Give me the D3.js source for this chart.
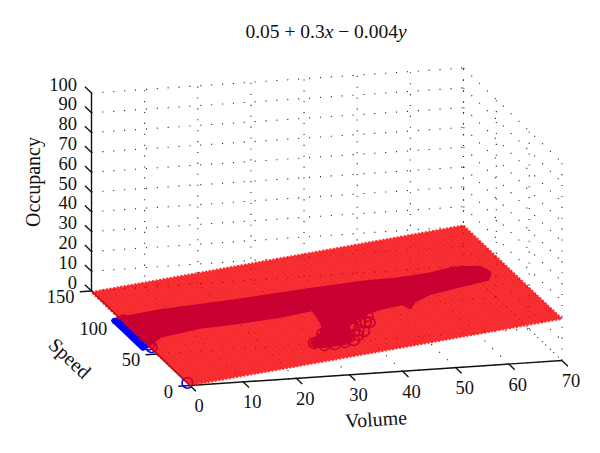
<!DOCTYPE html>
<html>
<head>
<meta charset="utf-8">
<script src="https://cdn.jsdelivr.net/npm/d3@7"></script>
<style>
  body { margin: 0; background: #fff; }
  text { font-family: "Liberation Serif", serif; fill: #111; }
</style>
</head>
<body>
<svg id="chart" width="600" height="453"></svg>
<script>
// Ticks of the three axes
const volumeTicks = [0, 10, 20, 30, 40, 50, 60, 70];
const speedTicks = [0, 50, 100, 150];
const occupancyTicks = [0, 10, 20, 30, 40, 50, 60, 70, 80, 90, 100];

// Corners of the fitted plane
const planeVolume = [0, 70, 70, 0];
const planeSpeed = [0, 0, 150, 150];
const planeOccupancy = [0.05, 21.05, 20.45, -0.55];

// Outline of the solid mass of overlapping observations
const massVolume = [-1.2, 7.5, 20.7, 33, 44.5, 50.3, 56.4, 61, 65.4, 66, 64.9, 59, 53.5, 49.6, 48, 47.6, 43.1, 39.5, 37.5, 35, 34, 33.5, 32.5, 28, 26.5, 29.5, 31, 32, 32.3, 26, 17.4, 11.5, 3.7, -1.2];
const massSpeed = [106, 106.5, 102.2, 99.4, 96.2, 92, 90.8, 93.3, 88, 79.2, 72.8, 70.6, 67.8, 61.1, 53.8, 60.9, 59.7, 55.7, 50.5, 44, 34, 27, 21.4, 21.8, 26, 37.3, 46.6, 60, 74.7, 73.2, 75.2, 77.8, 75.4, 62];

// Single observations that can still be told apart
const pointVolume = [0, 32.5, 27.3, 28, 29.8, 31.7, 33.5, 35, 35.9, 38.4, 39.7, 39.5, 35.7, 35.8, 29.5, 31.7, 31.1, 33.4, 34.7, 34.3, 33.6, 37.4, 37.5, 33.5, 29.4, 31.3, 31.2, 39, 36.6, 26.7, 0.3, 0.3, 0.3, 0.3, 0.3, 0.3, 0.3, 0.3, 0.3, 0.3, 0.3, 0.3];
const pointSpeed = [4, 61.7, 27.7, 21.8, 20.6, 20.9, 21.4, 27.2, 33.9, 42.9, 50.5, 57.4, 42.2, 53.4, 37.3, 46.6, 31.4, 34.4, 55.1, 60.6, 43.7, 51, 44.3, 27.8, 30.9, 24.8, 39.4, 41.9, 31.2, 27.1, 61, 65, 69, 73, 77, 81, 85, 89, 93, 97, 101, 104];

const svg = d3.select("#chart");

// Each axis moves along its own screen direction (orthographic view)
const originX = 190, originY = 385.5;
const volX = d3.scaleLinear().domain([0, 70]).range([0, 372]);
const volY = d3.scaleLinear().domain([0, 70]).range([0, -25]);
const spdX = d3.scaleLinear().domain([0, 150]).range([0, -98.5]);
const spdY = d3.scaleLinear().domain([0, 150]).range([0, -94.5]);
const occY = d3.scaleLinear().domain([0, 100]).range([0, -198]);

const project = (v, s, o) => [
    originX + volX(v) + spdX(s),
    originY + volY(v) + spdY(s) + occY(o)
];
const occOnPlane = (v, s) => 0.05 + 0.3 * v - 0.004 * s;
const line = d3.line();

// Stripe texture of the plane markers
const defs = svg.append("defs");
const stripes = defs.append("pattern")
    .attr("id", "planeTexture")
    .attr("patternUnits", "userSpaceOnUse")
    .attr("width", 4).attr("height", 4)
    .attr("patternTransform", "rotate(42)");
stripes.append("rect").attr("width", 4).attr("height", 4).attr("fill", "#ff0000");
stripes.append("rect").attr("width", 4).attr("height", 1.6).attr("fill", "#e6000c");

// Dotted grid: back wall, right wall, floor
const grid = svg.append("g")
    .attr("fill", "none")
    .attr("stroke", "#222")
    .attr("stroke-width", 1.1)
    .attr("stroke-dasharray", "1.1 9.8");
const gridSegments = [];
volumeTicks.forEach(v => {
    gridSegments.push([project(v, 150, 0), project(v, 150, 100)]);
    gridSegments.push([project(v, 0, 0), project(v, 150, 0)]);
});
speedTicks.forEach(s => {
    gridSegments.push([project(70, s, 0), project(70, s, 100)]);
    gridSegments.push([project(0, s, 0), project(70, s, 0)]);
});
occupancyTicks.forEach(o => {
    gridSegments.push([project(0, 150, o), project(70, 150, o)]);
    gridSegments.push([project(70, 150, o), project(70, 0, o)]);
});
grid.selectAll("path").data(gridSegments).join("path").attr("d", line);

// Axis lines below the plane
const axes = svg.append("g").attr("fill", "none").attr("stroke", "#111").attr("stroke-width", 1.4);
axes.append("path").attr("d", line([project(0, 150, 0), project(0, 150, 100)]));
axes.append("path").attr("d", line([project(0, 0, 0), project(70, 0, 0)]));
axes.append("path").attr("d", line([project(0, 0, 0), project(0, 150, 0)]));
axes.selectAll(".vt").data(volumeTicks).join("path").attr("class", "vt")
    .attr("d", v => line([project(v, 0, 0), project(v, -9, 0)]));
axes.selectAll(".st").data(speedTicks).join("path").attr("class", "st")
    .attr("d", s => line([project(0, s, 0), project(-2.2, s, 0)]));
axes.selectAll(".ot").data(occupancyTicks).join("path").attr("class", "ot")
    .attr("d", o => line([project(0, 150, o), project(0, 160, o)]));

// Observations, seen through the plane
svg.append("path")
    .attr("fill", "#0000ff")
    .attr("stroke", "#0000ff")
    .attr("stroke-width", 5.5)
    .attr("stroke-linejoin", "round")
    .attr("d", line(massVolume.map((v, i) => project(v, massSpeed[i], occOnPlane(v, massSpeed[i])))) + "Z");
svg.append("g")
    .attr("fill", "none").attr("stroke", "#0000ff").attr("stroke-width", 1.6)
    .selectAll("circle")
    .data(pointVolume.map((v, i) => ({ v, s: pointSpeed[i] })))
    .join("circle")
    .attr("r", 5.3)
    .attr("cx", d => project(d.v, d.s, occOnPlane(d.v, d.s))[0])
    .attr("cy", d => project(d.v, d.s, occOnPlane(d.v, d.s))[1]);

// Plane, translucent as a whole
const planePoints = planeVolume.map((v, i) => project(v, planeSpeed[i], planeOccupancy[i]));
const plane = svg.append("g").attr("opacity", 0.82);
plane.append("path")
    .attr("d", line(planePoints) + "Z")
    .attr("fill", "url(#planeTexture)");
plane.append("path")
    .attr("d", line(planePoints) + "Z")
    .attr("fill", "none")
    .attr("stroke", "#ff0000")
    .attr("stroke-width", 2)
    .attr("stroke-dasharray", "2 1.6");

// Tick labels
const labels = svg.append("g").attr("font-size", 18.5);
labels.selectAll(".vl").data(volumeTicks).join("text").attr("class", "vl")
    .attr("text-anchor", "middle").attr("dominant-baseline", "central")
    .attr("x", v => project(v, 0, 0)[0] + 9)
    .attr("y", v => project(v, 0, 0)[1] + 20.5)
    .text(v => v);
labels.selectAll(".sl").data(speedTicks).join("text").attr("class", "sl")
    .attr("text-anchor", "end").attr("dominant-baseline", "central")
    .attr("x", s => project(0, s, 0)[0] - 17)
    .attr("y", s => project(0, s, 0)[1] + 6)
    .text(s => s);
labels.selectAll(".ol").data(occupancyTicks).join("text").attr("class", "ol")
    .attr("text-anchor", "end").attr("dominant-baseline", "central")
    .attr("x", o => project(0, 150, o)[0] - 14.5)
    .attr("y", o => project(0, 150, o)[1] - 8.5)
    .text(o => o);

// Axis titles
const axisTitle = (x, y, angle, txt) => svg.append("text")
    .attr("transform", `translate(${x},${y}) rotate(${angle})`)
    .attr("text-anchor", "middle")
    .attr("dominant-baseline", "central")
    .attr("font-size", 20)
    .text(txt);
axisTitle(376, 419, -3.5, "Volume");
axisTitle(70, 358, 43, "Speed");
axisTitle(33, 182, -90, "Occupancy");

// Title with the plane equation
const title = svg.append("text")
    .attr("x", 326).attr("y", 31)
    .attr("text-anchor", "middle")
    .attr("dominant-baseline", "central")
    .attr("font-size", 19.5);
title.append("tspan").text("0.05 + 0.3");
title.append("tspan").attr("font-style", "italic").text("x");
title.append("tspan").text(" − 0.004");
title.append("tspan").attr("font-style", "italic").text("y");
</script>
</body>
</html>
